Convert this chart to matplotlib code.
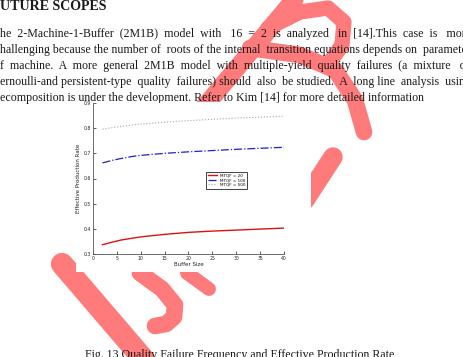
import matplotlib
matplotlib.use('Agg')
import matplotlib.pyplot as plt
from matplotlib.patches import Rectangle

# data
buffer_size = [2, 3, 4, 6, 8, 10, 15, 20, 25, 30, 35, 40]
rate_mtqf_20 = [0.337, 0.342, 0.347, 0.356, 0.362, 0.368, 0.378, 0.386, 0.391, 0.395, 0.399, 0.403]
rate_mtqf_100 = [0.662, 0.667, 0.672, 0.680, 0.687, 0.692, 0.700, 0.706, 0.711, 0.716, 0.720, 0.724]
rate_mtqf_500 = [0.796, 0.799, 0.802, 0.807, 0.812, 0.816, 0.824, 0.830, 0.835, 0.840, 0.844, 0.847]
series_labels = ['MTQF = 20', 'MTQF = 100', 'MTQF = 500']
x_ticks = [0, 5, 10, 15, 20, 25, 30, 35, 40]
y_ticks = [0.3, 0.4, 0.5, 0.6, 0.7, 0.8, 0.9]

# page text around the figure
heading = 'UTURE SCOPES'
paragraph = [
    'he 2-Machine-1-Buffer (2M1B) model with 16 = 2 is analyzed in [14].This case is more',
    'hallenging because the number of roots of the internal transition equations depends on parameters',
    'f machine. A more general 2M1B model with multiple-yield quality failures (a mixture of',
    'ernoulli-and persistent-type quality failures) should also be studied. A long line analysis using',
    'ecomposition is under the development. Refer to Kim [14] for more detailed information',
]
line_ends = [472, 476, 470, 471, None]
caption = 'Fig. 13 Quality Failure Frequency and Effective Production Rate'

SERIF = 'Liberation Serif'
INK = '#1a1a1a'
WM = '#ff7a7a'

fig = plt.figure(figsize=(4.64, 3.57), dpi=100)

# page layer in pixel coordinates
bg = fig.add_axes([0, 0, 1, 1])
bg.set_xlim(0, 464)
bg.set_ylim(357, 0)
bg.axis('off')

# watermark strokes (x list, y list, width in pt)
strokes = [
    ([298, 200], [-5, 112], 13),
    ([268, 300, 328, 344, 342, 330], [28, 12, 8, 22, 45, 62], 11),
    ([250, 300, 335, 355, 364], [48, 55, 70, 100, 132], 12),
    ([333, 305], [157, 200], 14),
    ([62, 146], [264, 362], 16),
    ([140, 162, 175, 174, 166, 155], [273, 289, 305, 317, 324, 326], 12),
    ([187, 209], [273, 289], 10),
]
for xs, ys, lw in strokes:
    bg.plot(xs, ys, color=WM, lw=lw, solid_capstyle='round', solid_joinstyle='round', zorder=1)

# the embedded chart picture hides the watermark
bg.add_patch(Rectangle((76, 102), 235, 170, facecolor='white', edgecolor='none', zorder=2))

renderer = fig.canvas.get_renderer()
size = 8.6
baselines = [37, 53, 69, 85, 101]


def text_width(s):
    t = bg.text(0, 0, s, fontsize=size, family=SERIF)
    w = t.get_window_extent(renderer).width
    t.remove()
    return w


# justify lines by padding the gaps with extra spaces
for line, y, x1 in zip(paragraph, baselines, line_ends):
    if x1 is not None:
        words = line.split(' ')
        gaps = len(words) - 1
        w1 = text_width(line)
        w2 = text_width('  '.join(words))
        space = (w2 - w1) / gaps
        extra = max(0, round((x1 - w1) / space))
        parts = [words[0]]
        for i, w in enumerate(words[1:]):
            n = 1 + (extra * (i + 1)) // gaps - (extra * i) // gaps
            parts.append(' ' * n + w)
        line = ''.join(parts)
    bg.text(0, y, line, fontsize=size, family=SERIF, color=INK, va='baseline', zorder=5)

bg.text(0, 10, heading, fontsize=10.1, family=SERIF, weight='bold', color=INK, va='baseline', zorder=5)
bg.text(240, 358, caption, fontsize=size, family=SERIF, color=INK, ha='center', va='baseline', zorder=5)

# the chart itself
ax = fig.add_axes([93 / 464, 1 - 254 / 357, 191 / 464, 151 / 357])
ax.set_zorder(3)
ax.plot(buffer_size, rate_mtqf_20, color='#e01010', lw=1.0, label=series_labels[0])
ax.plot(buffer_size, rate_mtqf_100, color='#2020d0', lw=0.9, ls='-.', label=series_labels[1])
ax.plot(buffer_size, rate_mtqf_500, color='#a8a8a8', lw=0.8, ls=':', label=series_labels[2])
ax.set_xlim(0, 40)
ax.set_ylim(0.3, 0.9)
ax.set_xticks(x_ticks)
ax.set_yticks(y_ticks)
ax.set_yticklabels(['%.1f' % v for v in y_ticks])
ax.tick_params(direction='in', length=2, width=0.5, labelsize=3.3, pad=1.5, colors='#222222')
for side in ['top', 'right']:
    ax.spines[side].set_visible(False)
for side in ['left', 'bottom']:
    ax.spines[side].set_linewidth(0.6)
    ax.spines[side].set_color('#555555')
ax.set_xlabel('Buffer Size', fontsize=4, labelpad=1, color='#222222')
ax.set_ylabel('Effective Production Rate', fontsize=4, labelpad=2, color='#222222')
leg = ax.legend(loc='upper left', bbox_to_anchor=(0.58, 0.56), fontsize=3, frameon=True,
                fancybox=False, edgecolor='#111111', handlelength=2.2, borderpad=0.4,
                labelspacing=0.2, handletextpad=0.8)
leg.get_frame().set_linewidth(0.7)

fig.savefig('out.png', dpi=100)
